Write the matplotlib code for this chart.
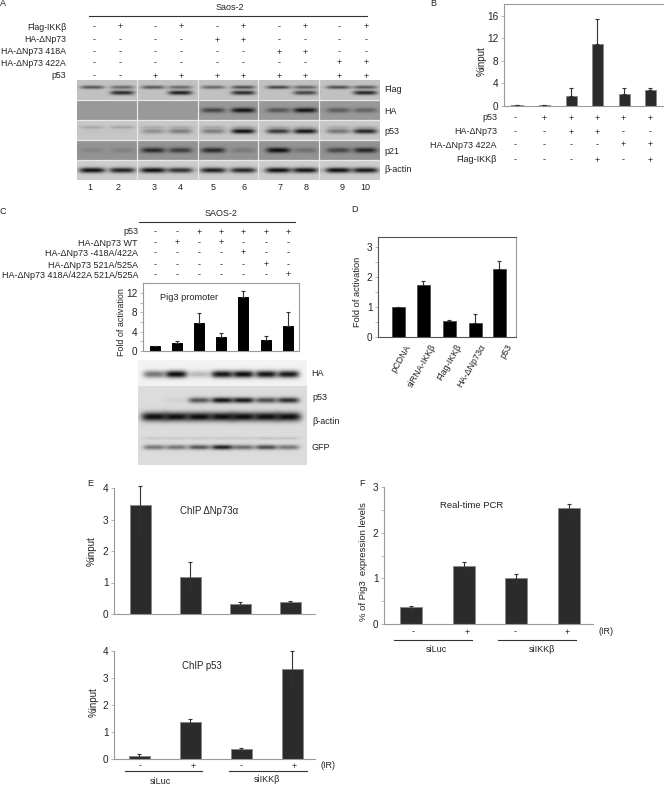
import numpy as np
import matplotlib
matplotlib.use('Agg')
import matplotlib.pyplot as plt

plt.rcParams['font.family'] = ['Liberation Sans', 'DejaVu Sans']
plt.rcParams['font.size'] = 6.5
plt.rcParams['text.color'] = '#222222'

W, H = 664, 785
INK = '#333333'
FRAME = '#999999'

# Panel A ==================================================
a_header = 'Saos-2'
a_row_names = ['Flag-IKKβ', 'HA-ΔNp73', 'HA-ΔNp73 418A', 'HA-ΔNp73 422A', 'p53']
a_signs = [list('-+-+-+-+-+'),
           list('----++----'),
           list('------++--'),
           list('--------++'),
           list('--++++++++')]
a_lane_labels = ['1', '2', '3', '4', '5', '6', '7', '8', '9', '10']
a_blot_names = ['Flag', 'HA', 'p53', 'p21', 'β-actin']
a_flag_upper = [.6, .5, .6, .5, .5, .65, .7, .55, .65, .6]
a_flag_lower = [0, .85, 0, .92, 0, .85, 0, .7, 0, .88]
a_ha = [0, 0, 0, 0, .62, .97, .5, .95, .45, .4]
a_p53_upper = [.18, .2, .14, .16, .16, .2, .16, .16, .14, .16]
a_p53_lower = [.03, .03, .3, .4, .4, 1, .78, .97, .45, .88]
a_p21 = [.1, .14, .8, .65, .8, .2, 1, .28, .6, .82]
a_actin = [1, .9, 1, .82, .92, .88, 1, .97, 1, .95]

# Panel B ==================================================
b_values = [0.2, 0.2, 1.8, 11.0, 2.2, 2.9]
b_err_up = [0, 0, 1.4, 4.5, 1.0, 0.3]
b_row_names = ['p53', 'HA-ΔNp73', 'HA-ΔNp73 422A', 'Flag-IKKβ']
b_signs = [list('-+++++'), list('--++--'), list('----++'), list('---+-+')]

# Panel C ==================================================
c_header = 'SAOS-2'
c_values = [1.0, 1.6, 5.9, 2.8, 11.2, 2.3, 5.2]
c_err_up = [0, 0.5, 1.9, 1.0, 1.3, 0.9, 2.9]
c_row_names = ['p53', 'HA-ΔNp73 WT', 'HA-ΔNp73 -418A/422A', 'HA-ΔNp73 521A/525A',
               'HA-ΔNp73 418A/422A 521A/525A']
c_signs = [list('--+++++'), list('-+-+---'), list('----+--'), list('-----+-'), list('------+')]
c_blot_names = ['HA', 'p53', 'β-actin', 'GFP']
c_ha = [.55, 1, .25, .97, 1, .97, .95]
c_p53 = [0, .04, .65, .97, .95, .7, .85]
c_actin = [1, 1, 1, 1, 1, 1, 1]
c_gfp = [.5, .5, .65, .92, .55, .7, .5]
c_gfp_faint = [.1, .1, .1, .1, .1, .13, .13]

# Panel D ==================================================
d_names = ['pCDNA', 'siRNA-IKKβ', 'Flag-IKKβ', 'HA-ΔNp73α', 'p53']
d_values = [1.0, 1.72, 0.53, 0.47, 2.28]
d_err_up = [0, 0.15, 0.05, 0.31, 0.27]

# Panel E ==================================================
e1_values = [3.45, 1.18, 0.33, 0.38]
e1_err_low = [0.83, 0.46, 0.06, 0.04]
e1_err_up = [0.6, 0.47, 0.06, 0.02]
e2_values = [0.12, 1.38, 0.36, 3.35]
e2_err_low = [0.08, 0.13, 0.07, 0.68]
e2_err_up = [0.05, 0.12, 0.05, 0.65]

# Panel F ==================================================
f_values = [0.37, 1.28, 1.0, 2.54]
f_err_low = [0.04, 0.08, 0.09, 0.08]
f_err_up = [0.03, 0.07, 0.09, 0.09]

fig = plt.figure(figsize=(W / 100, H / 100), dpi=100, facecolor='white')


def box_axes(left, top, right, bottom):
    return fig.add_axes([left / W, 1 - bottom / H, (right - left) / W, (bottom - top) / H])


def blot(ax, x0, x1, y0, y1, bg, bands):
    # bands: (centres, strengths, y, half width, thickness)
    xs = np.arange(x0, x1, 0.5)
    ys = np.arange(y0, y1, 0.5)
    X, Y = np.meshgrid(xs, ys)
    img = np.full(X.shape, float(bg))
    for centres, strengths, yc, hw, thick in bands:
        for cx, s in zip(centres, strengths):
            shape = np.exp(-((X - cx) / hw) ** 4) * np.exp(-((Y - yc) / thick) ** 2)
            img -= s * (img - 0.05) * shape
    ax.imshow(img, extent=(x0, x1, y1, y0), cmap='gray', vmin=0, vmax=1, aspect='auto',
              interpolation='bilinear', zorder=1)


def bar_panel(box, y_per_unit, y0_px, centres_px, values, err, bar_w_px, ticks, minor=None,
              color='#2b2b2b', edge='#8a8a8a', spines=('left', 'bottom')):
    left, top, right, bottom = box
    ax = box_axes(left, top, right, bottom)
    ax.set_xlim(left, right)
    ax.set_ylim((y0_px - bottom) / y_per_unit, (y0_px - top) / y_per_unit)
    ax.bar(centres_px, values, width=bar_w_px, color=color, edgecolor=edge, linewidth=0.7, zorder=2)
    cont = ax.errorbar(centres_px, values, yerr=err, fmt='none', ecolor=INK, elinewidth=0.8,
                       capsize=1.5, capthick=0.8, zorder=3)
    for part in cont.get_children():
        part.set_clip_on(False)
    ax.set_xticks([])
    ax.set_yticks(ticks)
    if minor is not None:
        ax.set_yticks(minor, minor=True)
    ax.tick_params(axis='y', which='both', length=2, width=0.5, color=FRAME, pad=2, labelsize=7.2, labelcolor='#222222')
    for name, sp in ax.spines.items():
        sp.set_visible(name in spines)
        sp.set_color(FRAME)
        sp.set_linewidth(0.8)
    ax.patch.set_alpha(0)
    return ax


# Bar panels ==================================================
b_x = [517, 544, 571, 597, 624, 650]
bar_panel((504, 4, 663, 106), 5.64, 106, b_x, b_values, [[0] * 6, b_err_up], 11,
          [0, 4, 8, 12, 16], spines=('left', 'bottom', 'top'))

c_x = [155, 177, 199, 221, 243, 266, 288]
bar_panel((143, 283, 299, 351), 4.83, 351, c_x, c_values, [[0] * 7, c_err_up], 10,
          [0, 4, 8, 12], minor=[2, 6, 10], color='black', edge='black',
          spines=('left', 'bottom', 'top', 'right'))

d_x = [398, 423, 449, 475, 499]
axd = bar_panel((378, 237, 516, 337), 30, 337, d_x, d_values, [[0] * 5, d_err_up], 13,
                [0, 1, 2, 3], minor=[.5, 1.5, 2.5], color='black', edge='#555555',
                spines=('left', 'bottom', 'top', 'right'))
for sp in ('left', 'top', 'bottom'):
    axd.spines[sp].set_color('#555555')

e_top_x = [140, 190, 240, 290]
bar_panel((114, 488, 315, 614), 31.6, 614, e_top_x, e1_values, [e1_err_low, e1_err_up], 21, [0, 1, 2, 3, 4])
e_low_x = [139, 190, 241, 292]
bar_panel((114, 651, 315, 759), 27, 759, e_low_x, e2_values, [e2_err_low, e2_err_up], 21, [0, 1, 2, 3, 4])

f_x = [411, 464, 516, 569]
bar_panel((384, 487, 593, 624), 45.7, 624, f_x, f_values, [f_err_low, f_err_up], 22,
          [0, 1, 2, 3], minor=[.5, 1.5, 2.5])

# Overlay in pixel coordinates for blots, text and rules ==================================================
ov = fig.add_axes([0, 0, 1, 1])
ov.axis('off')
ov.patch.set_alpha(0)

a_x = [92, 122, 153, 180, 213, 243, 278, 305, 338, 365]
blot(ov, 77, 380, 80, 100, .76, [(a_x, a_flag_upper, 87, 12, 1.7), (a_x, a_flag_lower, 92.5, 12, 2.1)])
blot(ov, 77, 380, 100, 120, .60, [(a_x, a_ha, 110, 12, 2.4)])
blot(ov, 77, 380, 120, 140, .78, [(a_x, a_p53_upper, 127, 12, 1.4), (a_x, a_p53_lower, 131, 12, 2.4)])
blot(ov, 77, 380, 140, 160, .58, [(a_x, a_p21, 150, 12, 2.6)])
blot(ov, 77, 380, 160, 180, .80, [(a_x, a_actin, 170, 13, 2.6)])
for sep in [137, 198, 258, 319]:
    ov.plot([sep, sep], [80, 180], color='#e8e8e8', lw=0.9, zorder=2)
for sep in [100, 120, 140, 160]:
    ov.plot([77, 380], [sep, sep], color='#e8e8e8', lw=0.9, zorder=2)

lanes_c = [154, 176, 199, 222, 243, 266, 288]
blot(ov, 138, 307, 360, 386, .95, [(lanes_c, c_ha, 374, 11, 3.6)])
blot(ov, 138, 307, 386, 465, .86, [(lanes_c, c_p53, 400, 11, 2.8), (lanes_c, c_actin, 416.5, 13, 4.5),
                                   (lanes_c, c_gfp_faint, 438, 11, 1.3), (lanes_c, c_gfp, 447, 11, 2.4)])


def label(x, y, s, ha='center', **kw):
    ov.text(x, y, s, ha=ha, va='center', zorder=5, **kw)


def rule(x0, x1, y):
    ov.plot([x0, x1], [y, y], color=INK, lw=0.8, zorder=4)


def sign_table(names, signs, xs, ys, name_x, size=6.5):
    for name, row, y in zip(names, signs, ys):
        label(name_x, y, name, ha='right', fontsize=size)
        for x, s in zip(xs, row):
            label(x, y, s)


# Panel letters
for letter, x, y in [('A', 3, 3), ('B', 433, 4), ('C', 3, 211), ('D', 355, 210), ('E', 90, 484), ('F', 362, 484)]:
    label(x, y, letter)

# A texts
label(230, 8, a_header)
rule(89, 367, 15.5)
a_sign_x = [94, 120, 155, 181, 217, 243, 279, 305, 339, 366]
sign_table(a_row_names, a_signs, a_sign_x, [27, 40, 52, 63, 76], 66, size=6.3)
for name, y in zip(a_blot_names, [90, 111, 131, 151, 169]):
    label(384, y, name, ha='left')
for x, s in zip([90, 118, 154, 180, 213, 244, 280, 306, 342, 365], a_lane_labels):
    label(x, 187, s)

# B texts
label(482, 61, '%input', rotation=90, fontsize=7)
sign_table(b_row_names, b_signs, [515, 544, 571, 597, 623, 650], [118, 132, 145, 160], 497)

# C texts
label(221, 214, c_header)
rule(139, 295, 222)
sign_table(c_row_names, c_signs, c_x, [232, 243, 253, 265, 275], 138)
label(121, 322, 'Fold of activation', rotation=90, fontsize=6.4)
label(189, 297, 'Pig3 promoter', fontsize=6.7)
for name, y, x in zip(c_blot_names, [373, 398, 421, 448], [311, 312, 312, 312]):
    label(x, y, name, ha='left')

# D texts
label(357, 292, 'Fold of activation', rotation=90, fontsize=6.7)
for x, s in zip([405, 430, 456, 480, 506], d_names):
    ov.text(x, 343, s, rotation=60, ha='right', va='top', rotation_mode='anchor', zorder=5)

# E texts
label(92, 551, '%input', rotation=90, fontsize=7)
label(209, 511, 'ChIP ΔNp73α', fontsize=6.9)
label(94, 702, '%input', rotation=90, fontsize=7)
label(202, 666, 'ChIP p53', fontsize=6.9)
for x, s in zip([140, 193, 241, 294], '-+-+'):
    label(x, 766, s)
label(328, 765, '(IR)')
rule(125, 202, 771)
rule(229, 307, 771)
label(160, 781, 'siLuc')
label(267, 780, 'siIKKβ')

# F texts
label(363, 562, '% of Pig3  expression levels', rotation=90, fontsize=6.8)
label(472, 506, 'Real-time PCR', fontsize=6.8)
for x, s in zip([413, 467, 515, 567], '-+-+'):
    label(x, 632, s)
label(606, 632, '(IR)')
rule(394, 472, 640)
rule(498, 576, 640)
label(436, 650, 'siLuc')
label(542, 649, 'siIKKβ')

ov.set_xlim(0, W)
ov.set_ylim(H, 0)

fig.savefig('out.png', dpi=100)
